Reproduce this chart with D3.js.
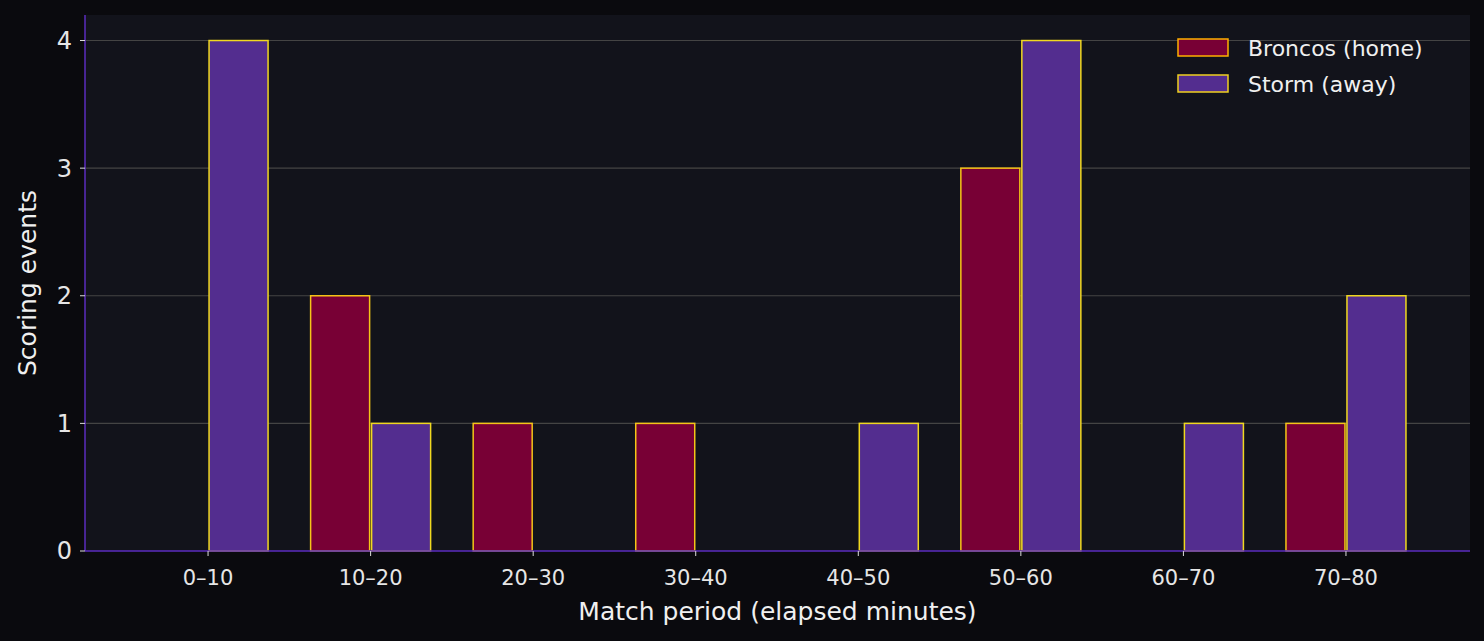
<!DOCTYPE html>
<html><head><meta charset="utf-8">
<script src="https://cdn.jsdelivr.net/npm/d3@7"></script>
<style>body{margin:0;background:#0a0a0e}svg{display:block}text{font-family:"DejaVu Sans",sans-serif}</style>
</head><body>
<svg id="c" width="1484" height="641"></svg>
<script>
const categories=["0–10","10–20","20–30","30–40","40–50","50–60","60–70","70–80"];
const broncos=[0,2,1,1,0,3,0,1];
const storm=[4,1,0,0,1,4,1,2];
const yTicks=[0,1,2,3,4];
const svg=d3.select("#c");
const L=85,R=1470,T=15,B=551;
svg.append("rect").attr("width",1484).attr("height",641).attr("fill","#0a0a0e");
svg.append("rect").attr("x",L).attr("y",T).attr("width",R-L).attr("height",B-T).attr("fill","#12131b");
const x=d3.scaleLinear().domain([-0.757,7.763]).range([L,R]);
const y=d3.scaleLinear().domain([0,4.2]).range([B,T]);
svg.append("g").selectAll("line").data(yTicks.slice(1)).join("line")
 .attr("x1",L).attr("x2",R).attr("y1",d=>y(d)).attr("y2",d=>y(d)).attr("stroke","#444").attr("stroke-width",1.2);
const w=59;
function bars(data,fill,stroke,off){
 svg.append("g").selectAll("rect").data(data).join("rect")
  .attr("x",(d,i)=>x(i)+off).attr("width",w).attr("y",d=>y(d)).attr("height",d=>y(0)-y(d))
  .attr("fill",fill).attr("stroke",stroke).attr("stroke-width",1.5);
}
bars(broncos,"#780035","#f5c518",-60);
bars(storm,"#532d8f","#f0d820",1);
// axes
svg.append("line").attr("x1",L).attr("x2",L).attr("y1",T).attr("y2",B).attr("stroke","#5b2dbf").attr("stroke-width",1.5);
svg.append("line").attr("x1",L).attr("x2",R).attr("y1",B).attr("y2",B).attr("stroke","#5b2dbf").attr("stroke-width",1.5);
const yg=svg.append("g").selectAll("g").data(yTicks).join("g");
yg.append("line").attr("x1",L-5).attr("x2",L).attr("y1",d=>y(d)).attr("y2",d=>y(d)).attr("stroke","#ddd");
yg.append("text").attr("x",L-13).attr("y",d=>y(d)).attr("dy","0.35em").attr("text-anchor","end").attr("fill","#e6e6e6").attr("font-size",24).text(d=>d);
const xg=svg.append("g").selectAll("g").data(categories).join("g");
xg.append("line").attr("x1",(d,i)=>x(i)).attr("x2",(d,i)=>x(i)).attr("y1",B).attr("y2",B+5).attr("stroke","#ddd");
xg.append("text").attr("x",(d,i)=>x(i)).attr("y",B+34).attr("text-anchor","middle").attr("fill","#e6e6e6").attr("font-size",21).text(d=>d);
svg.append("text").attr("x",(L+R)/2).attr("y",620).attr("text-anchor","middle").attr("fill","#f0f0f0").attr("font-size",25).text("Match period (elapsed minutes)");
svg.append("text").attr("transform",`translate(36,${(T+B)/2}) rotate(-90)`).attr("text-anchor","middle").attr("fill","#f0f0f0").attr("font-size",25).text("Scoring events");
// legend
const leg=[["Broncos (home)","#780035","#ffb000"],["Storm (away)","#532d8f","#f0d020"]];
const lg=svg.append("g").selectAll("g").data(leg).join("g").attr("transform",(d,i)=>`translate(1178,${39+i*36})`);
lg.append("rect").attr("width",50).attr("height",17).attr("fill",d=>d[1]).attr("stroke",d=>d[2]).attr("stroke-width",1.5);
lg.append("text").attr("x",70).attr("y",9).attr("dy","0.35em").attr("fill","#f0f0f0").attr("font-size",22).text(d=>d[0]);
</script></body></html>
